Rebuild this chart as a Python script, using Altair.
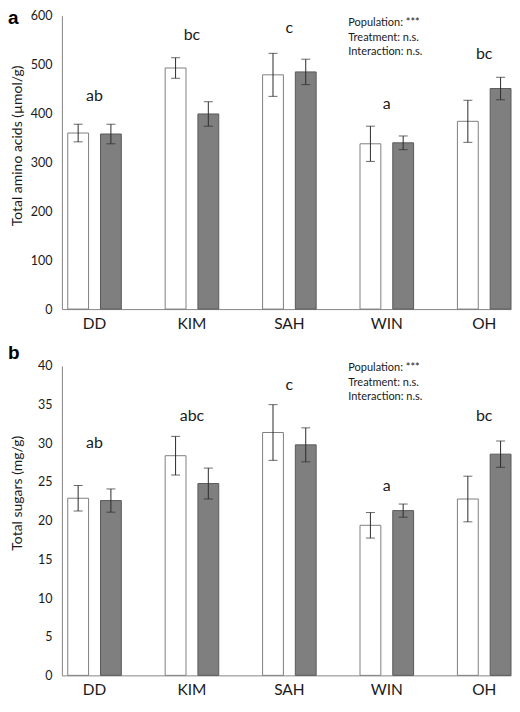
import altair as alt
import pandas as pd

pops = ["DD", "KIM", "SAH", "WIN", "OH"]
groups = ["Control", "Treatment"]

aa_control = [360, 493, 479, 338, 384]
aa_control_err = [18, 21, 44, 36, 43]
aa_treat = [358, 399, 485, 340, 451]
aa_treat_err = [20, 25, 26, 14, 23]
aa_letters = ["ab", "bc", "c", "a", "bc"]
aa_letter_y = [436, 560, 574, 420, 521]

sug_control = [22.9, 28.4, 31.4, 19.4, 22.8]
sug_control_err = [1.65, 2.5, 3.6, 1.65, 2.95]
sug_treat = [22.6, 24.8, 29.8, 21.3, 28.6]
sug_treat_err = [1.5, 2.0, 2.2, 0.85, 1.7]
sug_letters = ["ab", "abc", "c", "a", "bc"]
sug_letter_y = [30.1, 33.5, 37.5, 24.5, 33.5]

stats_lines = ["Population: ***", "Treatment: n.s.", "Interaction: n.s."]

FONT = "Lato"
TXT = "#1a1a1a"
AXIS = "#868686"
W = 450


def make_df(c, ce, t, te):
    rows = []
    for i, p in enumerate(pops):
        rows.append({"pop": p, "grp": groups[0], "mean": c[i], "lo": c[i] - ce[i], "hi": c[i] + ce[i]})
        rows.append({"pop": p, "grp": groups[1], "mean": t[i], "lo": t[i] - te[i], "hi": t[i] + te[i]})
    return pd.DataFrame(rows)


def panel(df, letters, letter_y, ymax, ystep, title, title_y, tag, height, ann_y, tag_y):
    xscale = alt.Scale(paddingInner=0.45, paddingOuter=0.03, align=1)
    xaxis = alt.Axis(title=None, labelAngle=0, labelFontSize=15.5, labelColor=TXT, labelFont=FONT,
                     domainColor=AXIS, ticks=False, tickSize=0, labelPadding=7, grid=False)
    yscale = alt.Scale(domain=[0, ymax], nice=False, zero=True)
    yaxis = alt.Axis(title=title, values=list(range(0, int(ymax) + 1, ystep)), labelFontSize=12.5,
                     labelColor=TXT, labelFont=FONT, domainColor=AXIS, ticks=False, tickSize=0,
                     labelPadding=10, grid=False, titleFont=FONT, titleFontSize=14,
                     titleFontWeight="normal", titleColor=TXT, titleX=-37, titleY=title_y)
    xo = alt.XOffset("grp:N", sort=groups, scale=alt.Scale(paddingInner=0.364, paddingOuter=0))
    xn = alt.X("pop:N", sort=pops, scale=xscale, axis=xaxis)
    base = alt.Chart(df)
    bars = base.mark_bar(strokeWidth=1).encode(
        x=xn,
        xOffset=xo,
        y=alt.Y("mean:Q", scale=yscale, axis=yaxis),
        fill=alt.Fill("grp:N", scale=alt.Scale(domain=groups, range=["#ffffff", "#7f7f7f"]), legend=None),
        stroke=alt.Stroke("grp:N", scale=alt.Scale(domain=groups, range=["#7f7f7f", "#5a5a5a"]), legend=None),
    )
    rules = base.mark_rule(color="#2b2b2b", strokeWidth=1).encode(
        x=xn, xOffset=xo, y=alt.Y("lo:Q", scale=yscale, axis=yaxis), y2="hi:Q")
    cap_lo = base.mark_tick(color="#2b2b2b", thickness=1, size=9).encode(
        x=xn, xOffset=xo, y=alt.Y("lo:Q", scale=yscale, axis=yaxis))
    cap_hi = base.mark_tick(color="#2b2b2b", thickness=1, size=9).encode(
        x=xn, xOffset=xo, y=alt.Y("hi:Q", scale=yscale, axis=yaxis))
    ldf = pd.DataFrame({"pop": pops, "letter": letters, "ly": letter_y})
    let = alt.Chart(ldf).mark_text(font=FONT, fontSize=16, color=TXT, baseline="middle").encode(
        x=xn, y=alt.Y("ly:Q", scale=yscale, axis=yaxis), text="letter:N")
    ann = alt.Chart(pd.DataFrame({"k": [0]})).mark_text(
        text=stats_lines, font=FONT, fontSize=11, color=TXT, align="left", baseline="top",
        lineHeight=14.5).encode(x=alt.value(287), y=alt.value(ann_y))
    lab = alt.Chart(pd.DataFrame({"k": [0]})).mark_text(
        text=tag, font="Liberation Sans", fontSize=19, fontWeight="bold", color="#000000",
        align="left", baseline="top").encode(x=alt.value(-54), y=alt.value(tag_y))
    return alt.layer(bars, rules, cap_lo, cap_hi, let, ann, lab).properties(width=W, height=height)


top = panel(make_df(aa_control, aa_control_err, aa_treat, aa_treat_err), aa_letters, aa_letter_y,
            600, 100, "Total amino acids (µmol/g)", 130, "a", 294, 1.5, -7)
bottom = panel(make_df(sug_control, sug_control_err, sug_treat, sug_treat_err), sug_letters, sug_letter_y,
               40, 5, "Total sugars (mg/g)", 127, "b", 310, -3.5, -22)

chart = alt.vconcat(top, bottom, spacing=12).properties(
    padding={"left": 0, "top": 0, "right": 0, "bottom": 0}
).configure(font=FONT).configure_view(stroke=None)

chart.save("out.html", embed_options={"renderer": "svg", "actions": False})
